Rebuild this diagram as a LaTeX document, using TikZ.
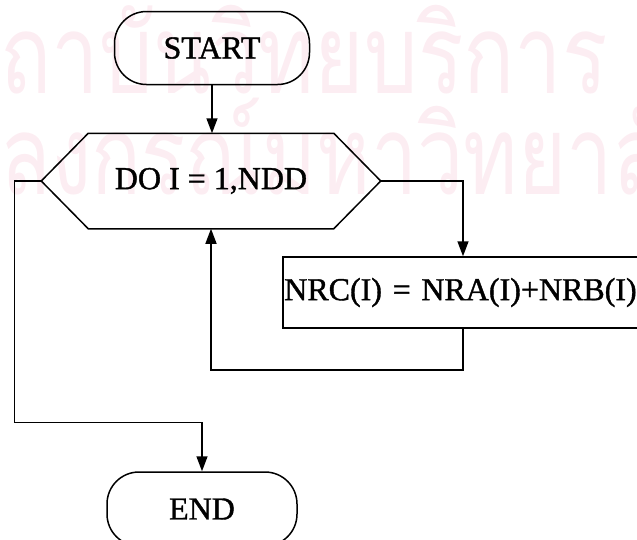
\documentclass[tikz,border=0pt]{standalone}
\usepackage{fontspec}
\setmainfont[FakeBold=1.2,AutoFakeBold=1.2]{Liberation Serif}
\newfontfamily\thaifont[Script=Thai]{Loma}
\usetikzlibrary{arrows.meta,calc}
\definecolor{wm}{RGB}{252,237,242}
\begin{document}
\begin{tikzpicture}[x=1pt,y=-1pt,line width=1.5pt,
  arr/.style={-{Triangle[length=15pt,width=11pt]}},
  lbl/.style={font=\fontsize{32}{36}\selectfont\bfseries},
  term/.style={draw,lbl,rounded corners=32pt,inner sep=0pt},
  wmtext/.style={text=wm,anchor=base west,inner sep=0pt,font=\thaifont\fontsize{110}{110}\selectfont}]
\useasboundingbox (0,0) rectangle (637,539);
\clip (0,0) rectangle (637,539);
% watermark
\node[wmtext] (wm1) at (0,93) {\scalebox{0.77}[1]{\llap{ส}ถาบันวิทยบริการ}};
\node[wmtext] (wm2) at (0,194) {\scalebox{0.75}[1]{\llap{จุฬา}ลงกรณ์มหาวิทยาลัย}};
% nodes
\node[term,minimum width=195pt,minimum height=73pt] (start) at (212,48) {START};
\node[lbl,minimum width=338pt,minimum height=94pt,inner sep=0pt] (do) at (211,181) {DO I = 1,NDD};
\draw ($(do.north west)+(47,0)$) -- ($(do.north east)+(-47,0)$) -- (do.east)
  -- ($(do.south east)+(-47,0)$) -- ($(do.south west)+(47,0)$) -- (do.west) -- cycle;
\node[draw,lbl,anchor=west,text width=356pt,align=left,inner xsep=1.5pt,minimum height=71pt] (nrc) at (282,292.5) {NRC(I) = NRA(I)+NRB(I)};
\node[term,minimum width=190pt,minimum height=74pt] (end) at (202,509) {END};
% connectors
\draw[arr] (start.south) -- (start.south |- do.north);
\draw[arr] (do.east) -| ($(nrc.north west)+(181,0)$);
\draw[arr] ($(nrc.south west)+(181,0)$) -- ++(0,41) -| (do.south);
\draw[arr] (do.west) -- ++(-27,0) |- ($(end.north)+(0,-49)$) -- (end.north);
\end{tikzpicture}
\end{document}
